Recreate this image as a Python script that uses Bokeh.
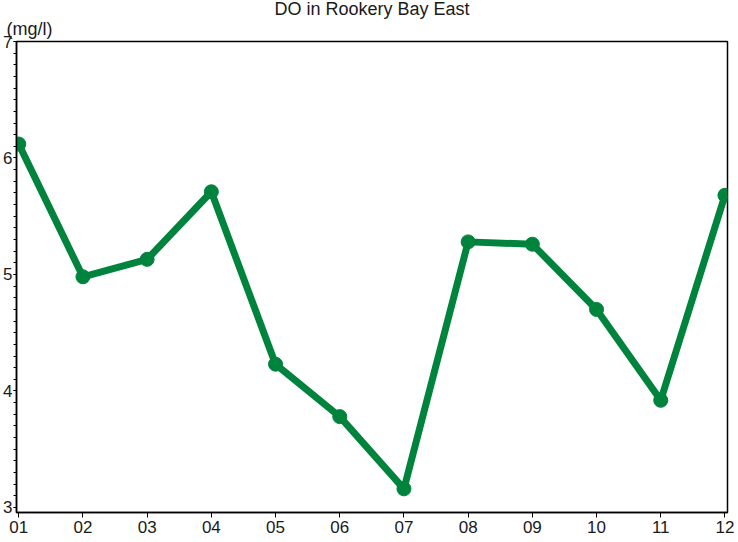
from bokeh.plotting import figure
from bokeh.models import Range1d, FixedTicker, Title, ColumnDataSource
from bokeh.embed import file_html
from bokeh.resources import INLINE

months = [1, 2, 3, 4, 5, 6, 7, 8, 9, 10, 11, 12]
month_labels = ["01", "02", "03", "04", "05", "06", "07", "08", "09", "10", "11", "12"]
do_values = [6.12, 4.98, 5.13, 5.71, 4.23, 3.78, 3.16, 5.28, 5.26, 4.70, 3.92, 5.68]
y_ticks = [3, 4, 5, 6, 7]

title_text = "DO in Rookery Bay East"
unit_text = "(mg/l)"

GREEN = "#00843D"
TXT = "#1a1a1a"
FONT = "Liberation Sans"

p = figure(width=738, height=542, output_backend="svg", toolbar_location=None,
           x_range=Range1d(0.965, 12.04), y_range=Range1d(2.957, 7.0),
           min_border_top=39, min_border_right=11, min_border_left=0, min_border_bottom=30)

p.background_fill_color = "white"
p.border_fill_color = "white"
p.outline_line_color = "black"
p.outline_line_width = 1.5
p.xgrid.visible = False
p.ygrid.visible = False

src = ColumnDataSource(dict(x=months, y=do_values))
p.line("x", "y", source=src, line_color=GREEN, line_width=7, line_join="round")
p.scatter("x", "y", source=src, size=14, fill_color=GREEN, line_color=GREEN)

p.xaxis.ticker = FixedTicker(ticks=months)
p.xaxis.major_label_overrides = {m: l for m, l in zip(months, month_labels)}
p.yaxis.ticker = FixedTicker(ticks=y_ticks,
                             minor_ticks=[3 + i * 0.1 for i in range(41)])
for ax in (p.xaxis[0], p.yaxis[0]):
    ax.axis_line_color = "black"
    ax.axis_line_width = 1.5
    ax.major_tick_line_color = "black"
    ax.minor_tick_line_color = "black"
    ax.major_tick_in = 0
    ax.minor_tick_in = 0
    ax.major_label_text_font = FONT
    ax.major_label_text_font_size = "17px"
    ax.major_label_text_color = TXT
p.xaxis.major_tick_out = 5
p.xaxis.minor_tick_out = 0
p.xaxis.major_label_standoff = 3
p.yaxis.major_tick_out = 3
p.yaxis.minor_tick_out = 3
p.yaxis.major_label_standoff = 1

p.title.text = title_text
p.title.align = "center"
p.title.offset = -6
p.title.text_font = FONT
p.title.text_font_size = "18px"
p.title.text_font_style = "normal"
p.title.text_color = TXT
p.title.standoff = -8

unit = Title(text=unit_text, align="left", offset=-10, text_font=FONT,
             text_font_size="18px", text_font_style="normal", text_color=TXT,
             standoff=5)
p.add_layout(unit, "above")

open("out.html", "w").write(file_html(p, INLINE))
